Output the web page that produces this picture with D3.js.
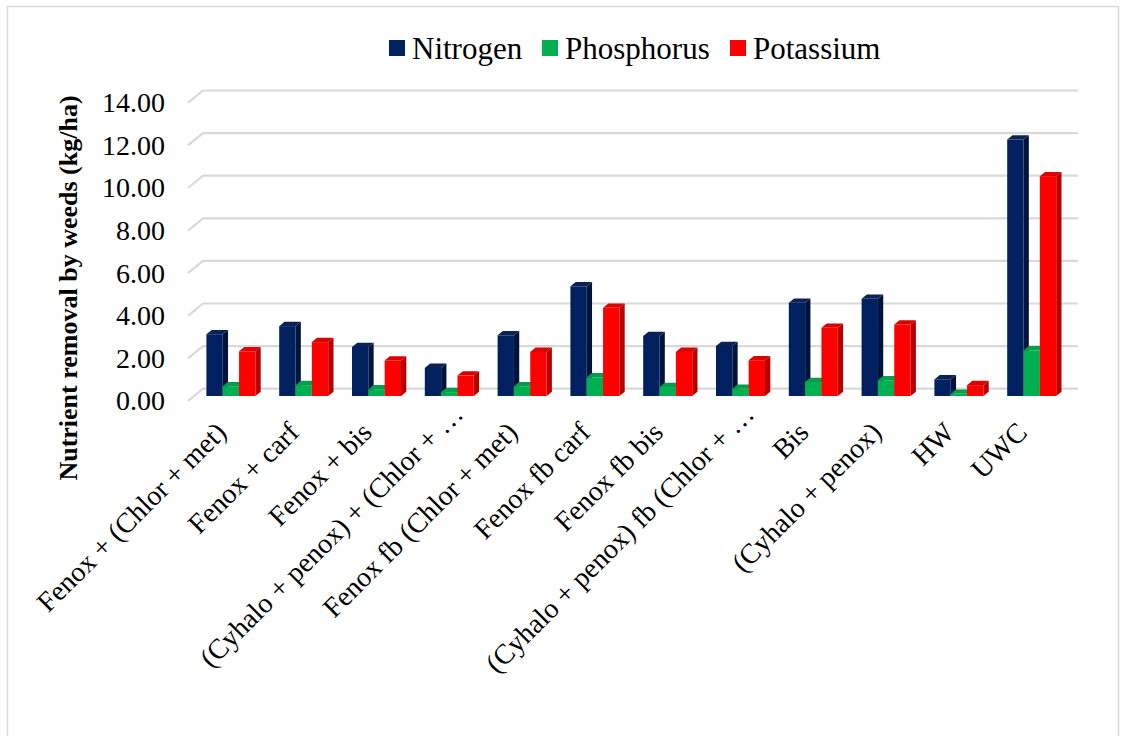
<!DOCTYPE html>
<html>
<head>
<meta charset="utf-8">
<script src="https://cdn.jsdelivr.net/npm/d3@7"></script>
<style>
  html, body { margin: 0; padding: 0; background: #fff; }
  svg { display: block; }
  svg text { font-family: "Liberation Serif", "Times New Roman", serif !important; }
</style>
</head>
<body>
<svg id="chart" width="1123" height="736"></svg>
<script>
const categories = [
  "Fenox + (Chlor + met)",
  "Fenox + carf",
  "Fenox + bis",
  "(Cyhalo + penox) + (Chlor + …",
  "Fenox fb (Chlor + met)",
  "Fenox fb carf",
  "Fenox fb bis",
  "(Cyhalo + penox) fb (Chlor + …",
  "Bis",
  "(Cyhalo + penox)",
  "HW",
  "UWC"
];
const seriesNames = ["Nitrogen", "Phosphorus", "Potassium"];
const nitrogen   = [2.90, 3.28, 2.30, 1.32, 2.85, 5.15, 2.82, 2.35, 4.38, 4.56, 0.78, 12.04];
const phosphorus = [0.46, 0.51, 0.31, 0.18, 0.46, 0.88, 0.42, 0.34, 0.66, 0.74, 0.10, 2.14];
const potassium  = [2.10, 2.53, 1.67, 0.96, 2.07, 4.14, 2.07, 1.68, 3.20, 3.36, 0.51, 10.32];
const yTicks = [0, 2, 4, 6, 8, 10, 12, 14];

const FONT = "Liberation Serif, Times New Roman, serif";
const colors = {
  Nitrogen:   { front: "#002060", side: "#00133d", top: "#0a2354" },
  Phosphorus: { front: "#00B050", side: "#00853c", top: "#00a04a" },
  Potassium:  { front: "#FF0000", side: "#B80000", top: "#DD0000" }
};
const valuesBySeries = { Nitrogen: nitrogen, Phosphorus: phosphorus, Potassium: potassium };

const svg = d3.select("#chart");

// outer frame
svg.append("rect").attr("x", 7.5).attr("y", 6.5).attr("width", 1111).attr("height", 740)
  .attr("fill", "none").attr("stroke", "#d9d9d9").attr("stroke-width", 1.5);

// scales
const x0 = d3.scaleBand().domain(categories).range([194.5, 1068.1])
  .paddingInner(0.327).paddingOuter(0.1635);
const x1 = d3.scaleBand().domain(seriesNames).range([0, x0.bandwidth()]);
const y = d3.scaleLinear().domain([0, 14]).range([396, 396 - 14 * 21.3]);

// 3D offsets
const depthX = 5.3, depthY = -4.3;       // bar depth
const wallX = 13, wallY = -7.3;          // back wall offset
const floorX = -2, floorY = 5;           // front edge offset

// gridlines (back wall + side diagonal)
const grid = svg.append("g");
yTicks.forEach(v => {
  const yy = y(v);
  grid.append("path")
    .attr("d", `M${190 + floorX},${yy + floorY} L${190 + wallX},${yy + wallY} L1078,${yy + wallY}`)
    .attr("fill", "none").attr("stroke", "#d9d9d9").attr("stroke-width", 2.2);
});

// y axis tick labels
const yAxis = d3.axisLeft(y).tickValues(yTicks).tickFormat(d3.format(".2f")).tickSize(0).tickPadding(0);
const yg = svg.append("g").attr("transform", "translate(165,5)").call(yAxis)
  .attr("font-family", FONT).attr("font-size", 28);
yg.select(".domain").remove();
yg.selectAll("text").attr("fill", "#000").style("font-family", FONT).style("font-size", "28px");

// y axis title
svg.append("text")
  .attr("transform", "translate(77,288) rotate(-90)")
  .attr("text-anchor", "middle")
  .style("font-family", FONT).style("font-size", "26px").style("font-weight", "bold")
  .attr("fill", "#000")
  .text("Nutrient removal by weeds (kg/ha)");

// bars
const barsG = svg.append("g");
categories.forEach((cat, i) => {
  seriesNames.forEach(s => {
    const v = valuesBySeries[s][i];
    const bx = x0(cat) + x1(s);
    const bw = x1.bandwidth();
    const yt = y(v), yb = y(0);
    const c = colors[s];
    const g = barsG.append("g");
    g.append("path")
      .attr("d", `M${bx + bw},${yb} L${bx + bw + depthX},${yb + depthY} L${bx + bw + depthX},${yt + depthY} L${bx + bw},${yt} Z`)
      .attr("fill", c.side);
    g.append("path")
      .attr("d", `M${bx},${yt} L${bx + depthX},${yt + depthY} L${bx + bw + depthX},${yt + depthY} L${bx + bw},${yt} Z`)
      .attr("fill", c.top);
    g.append("rect").attr("x", bx).attr("y", yt).attr("width", bw).attr("height", yb - yt)
      .attr("fill", c.front);
  });
});

// category labels
const xLab = svg.append("g");
categories.forEach(cat => {
  const cx = x0(cat) + x0.bandwidth() / 2;
  xLab.append("text")
    .attr("transform", `translate(${cx - 3},434) rotate(-45)`)
    .attr("text-anchor", "end")
    .attr("dx", cat.endsWith("…") ? 26 : 0)
    .style("font-family", FONT).style("font-size", "28px")
    .attr("fill", "#000")
    .text(cat);
});

// legend
const legendX = [389, 542, 730];
const legend = svg.append("g");
seriesNames.forEach((s, i) => {
  legend.append("rect").attr("x", legendX[i]).attr("y", 40).attr("width", 16).attr("height", 16)
    .attr("fill", colors[s].front);
  legend.append("text").attr("x", legendX[i] + 23).attr("y", 58.5)
    .style("font-family", FONT).style("font-size", "31px")
    .attr("fill", "#000").text(s);
});
</script>
</body>
</html>
